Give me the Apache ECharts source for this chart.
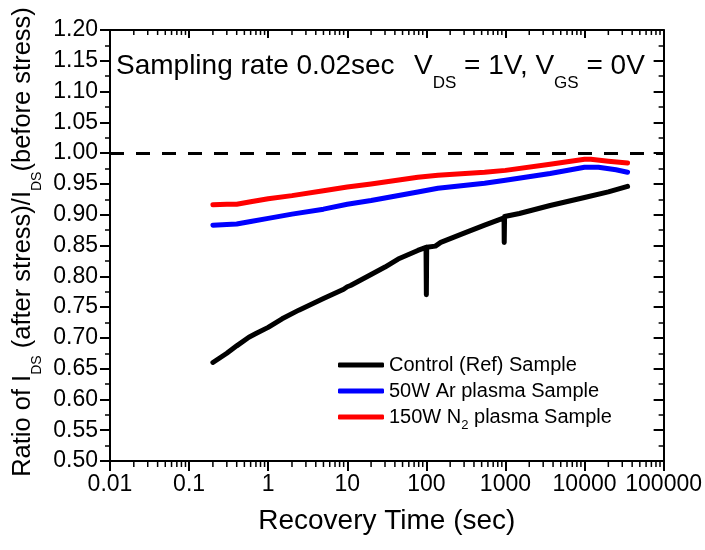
<!DOCTYPE html>
<html><head><meta charset="utf-8">
<script src="https://cdn.jsdelivr.net/npm/echarts@6/dist/echarts.min.js"></script>
<style>html,body{margin:0;padding:0;background:#fff}#c{width:705px;height:550px}</style>
</head><body><div id="c"></div>
<script>
// ---- tick labels ----
const xTickLabels = ['0.01','0.1','1','10','100','1000','10000','100000'];
const yTickLabels = ['0.50','0.55','0.60','0.65','0.70','0.75','0.80','0.85','0.90','0.95','1.00','1.05','1.10','1.15','1.20'];
const xMinorMultipliers = [2,3,4,5,6,7,8,9];

// ---- series: Control (Ref) Sample ----
const controlTime  = [0.2, 0.3, 0.4, 0.57, 0.7, 1, 1.5, 2.44, 5, 9, 10, 11, 20, 30, 44, 78, 99, 100, 101, 130, 152, 300, 545, 960, 965, 975, 1500, 3670, 10000, 20000, 35000];
const controlValue = [0.660, 0.675, 0.687, 0.701, 0.707, 0.717, 0.731, 0.745, 0.764, 0.779, 0.783, 0.785, 0.803, 0.815, 0.828, 0.842, 0.847, 0.770, 0.847, 0.849, 0.855, 0.870, 0.883, 0.895, 0.855, 0.897, 0.902, 0.915, 0.928, 0.937, 0.946];

// ---- series: 50W Ar plasma Sample ----
const arTime  = [0.2, 0.3, 0.4, 0.6, 1, 2, 5, 10, 20, 78, 140, 545, 1000, 3670, 10000, 15000, 25000, 35000];
const arValue = [0.883, 0.884, 0.885, 0.889, 0.894, 0.901, 0.909, 0.917, 0.923, 0.937, 0.943, 0.951, 0.956, 0.967, 0.977, 0.977, 0.973, 0.969];

// ---- series: 150W N2 plasma Sample ----
const n2Time  = [0.2, 0.3, 0.4, 0.6, 1, 2, 5, 10, 20, 78, 140, 545, 1000, 3670, 10000, 12000, 20000, 35000];
const n2Value = [0.916, 0.917, 0.917, 0.921, 0.926, 0.931, 0.939, 0.945, 0.950, 0.961, 0.964, 0.969, 0.972, 0.982, 0.990, 0.990, 0.987, 0.984];

const refLevel = 1.0;
const seriesNames = ['Control (Ref) Sample', '50W Ar plasma Sample', '150W N2 plasma Sample'];

const zip = (a, b) => a.map((t, i) => [t, b[i]]);
const minorTicks = [];
for (let e = -2; e < 5; e++) xMinorMultipliers.forEach(m => minorTicks.push([m * Math.pow(10, e), 0.5]));

const FONT = 'Liberation Sans, Arial, sans-serif';
const chart = echarts.init(document.getElementById('c'), null, {renderer: 'canvas'});

const xFmt = v => { const e = Math.round(Math.log10(v)); return xTickLabels[e + 2] || ''; };
const yFmt = v => yTickLabels[Math.round((v - 0.5) / 0.05)] || '';

const lineSeries = (name, data, color) => ({
  name, type: 'line', data, showSymbol: false, symbol: 'none',
  lineStyle: {color, width: 5, cap: 'round', join: 'round'}, itemStyle: {color},
  animation: false, z: 3
});

chart.setOption({
  animation: false,
  textStyle: {fontFamily: FONT},
  grid: {left: 110, right: 40, top: 30, bottom: 89, containLabel: false},
  xAxis: [{
    type: 'log', logBase: 10, min: 0.01, max: 100000, position: 'bottom',
    name: 'Recovery Time (sec)', nameLocation: 'middle', nameGap: 46,
    nameTextStyle: {fontSize: 28, color: '#000', fontFamily: FONT},
    axisLine: {show: true, lineStyle: {color: '#000', width: 2}},
    axisTick: {show: true, inside: false, length: 10, lineStyle: {color: '#000', width: 2}},
    axisLabel: {formatter: xFmt, fontSize: 23, color: '#000', margin: 12, fontFamily: FONT},
    splitLine: {show: false}
  }, {
    type: 'log', logBase: 10, min: 0.01, max: 100000, position: 'top',
    axisLine: {show: true, lineStyle: {color: '#000', width: 2}},
    axisTick: {show: true, inside: true, length: 8, lineStyle: {color: '#000', width: 2}},
    axisLabel: {show: false}, splitLine: {show: false}
  }],
  yAxis: [{
    type: 'value', min: 0.5, max: 1.2, interval: 0.05, position: 'left',
    axisLine: {show: true, lineStyle: {color: '#000', width: 2}},
    axisTick: {show: true, inside: false, length: 10, lineStyle: {color: '#000', width: 2}},
    minorTick: {show: true, splitNumber: 2, length: 5, lineStyle: {color: '#000', width: 1.5}},
    axisLabel: {formatter: yFmt, fontSize: 23, color: '#000', margin: 12, fontFamily: FONT},
    splitLine: {show: false}, minorSplitLine: {show: false}
  }, {
    type: 'value', min: 0.5, max: 1.2, interval: 0.05, position: 'right',
    axisLine: {show: true, lineStyle: {color: '#000', width: 2}},
    axisTick: {show: true, inside: true, length: 10, lineStyle: {color: '#000', width: 2}},
    minorTick: {show: true, splitNumber: 2, length: 5, lineStyle: {color: '#000', width: 1.5}},
    axisLabel: {show: false}, splitLine: {show: false}
  }],
  legend: {
    data: seriesNames, orient: 'vertical', left: 338, top: 355, padding: 0,
    itemWidth: 46, itemHeight: 5, itemGap: 6, icon: 'roundRect',
    formatter: n => n === seriesNames[2] ? '{m|150W N}{s|2}{m| plasma Sample}' : '{m|' + n + '}',
    textStyle: {fontSize: 20, color: '#000', fontFamily: FONT,
      rich: {m: {fontSize: 20, color: '#000', fontFamily: FONT, lineHeight: 30},
             s: {fontSize: 13, color: '#000', fontFamily: FONT, verticalAlign: 'bottom', lineHeight: 13}}}
  },
  graphic: [{
    type: 'text', x: 116, y: 66,
    style: {text: 'Sampling rate 0.02sec', fill: '#000', font: '28px ' + FONT, verticalAlign: 'middle', align: 'left'}
  }, {
    type: 'text', x: 414, y: 66,
    style: {text: '{m|V}{s|DS}{m| = 1V, V}{s|GS}{m| = 0V}', fill: '#000', font: '28px ' + FONT,
      verticalAlign: 'middle', align: 'left',
      rich: {m: {fontSize: 28, fontFamily: FONT, fill: '#000', lineHeight: 52},
             s: {fontSize: 17, fontFamily: FONT, fill: '#000', verticalAlign: 'bottom', lineHeight: 17}}}
  }, {
    type: 'text', x: 23, y: 242, rotation: Math.PI / 2,
    style: {text: '{m|Ratio of I}{s|DS}{m| (after stress)/I}{s|DS}{m|(before stress)}', fill: '#000',
      font: '25.5px ' + FONT, verticalAlign: 'middle', align: 'center',
      rich: {m: {fontSize: 25.5, fontFamily: FONT, fill: '#000', lineHeight: 42},
             s: {fontSize: 14, fontFamily: FONT, fill: '#000', verticalAlign: 'bottom', lineHeight: 14}}}
  }],
  series: [
    Object.assign(lineSeries(seriesNames[0], zip(controlTime, controlValue), '#000000'), {
      markLine: {silent: true, symbol: 'none', label: {show: false},
        lineStyle: {color: '#000', width: 3, type: [14, 12]},
        data: [{yAxis: refLevel}]}
    }),
    lineSeries(seriesNames[1], zip(arTime, arValue), '#0000ff'),
    lineSeries(seriesNames[2], zip(n2Time, n2Value), '#ff0000'),
    {
      type: 'custom', name: 'minorTicks', data: minorTicks, clip: false, silent: true, z: 5,
      renderItem: (params, api) => {
        const b = api.coord([api.value(0), 0.5]);
        const t = api.coord([api.value(0), 1.2]);
        const st = {stroke: '#000', lineWidth: 1.5};
        return {type: 'group', children: [
          {type: 'line', shape: {x1: b[0], y1: b[1], x2: b[0], y2: b[1] + 6}, style: st},
          {type: 'line', shape: {x1: t[0], y1: t[1], x2: t[0], y2: t[1] + 5}, style: st}
        ]};
      }
    }
  ]
});
</script></body></html>
